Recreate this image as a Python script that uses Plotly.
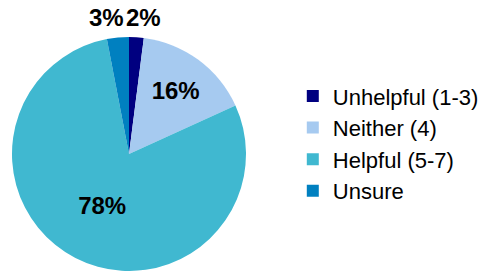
import plotly.graph_objects as go

categories = ["Unhelpful (1-3)", "Neither (4)", "Helpful (5-7)", "Unsure"]
values = [2, 16, 78, 3]
colors = ["#000080", "#A6CAF0", "#40B8D0", "#0080C0"]
text_positions = ["none", "inside", "inside", "none"]

label_font = dict(family="Liberation Sans, Arial", size=24, color="black", weight="bold")

fig = go.Figure(go.Pie(
    labels=categories,
    values=values,
    marker=dict(colors=colors, line=dict(width=0)),
    sort=False,
    direction="clockwise",
    rotation=0,
    texttemplate="%{value}%",
    textposition=text_positions,
    textfont=label_font,
    insidetextorientation="horizontal",
    domain=dict(x=[12/488, 246/488], y=[0, 234/271]),
    showlegend=True,
))

# small-slice labels sit just above the pie, as in the original
fig.add_annotation(text=f"{values[3]}%", x=126/488, y=1 - 18/271, xref="paper", yref="paper",
                   xanchor="right", yanchor="middle", showarrow=False, font=label_font)
fig.add_annotation(text=f"{values[0]}%", x=124/488, y=1 - 18/271, xref="paper", yref="paper",
                   xanchor="left", yanchor="middle", showarrow=False, font=label_font)

fig.update_layout(
    width=488, height=271,
    margin=dict(l=0, r=0, t=0, b=0),
    paper_bgcolor="white",
    plot_bgcolor="white",
    legend=dict(
        x=0.60, y=0.47, xanchor="left", yanchor="middle",
        font=dict(family="Liberation Sans, Arial", size=22, color="black"),
        itemsizing="constant",
    ),
)

fig.write_html("out.html", config={"displayModeBar": False},
               post_script="document.body.style.margin='0';document.body.style.padding='0';")
